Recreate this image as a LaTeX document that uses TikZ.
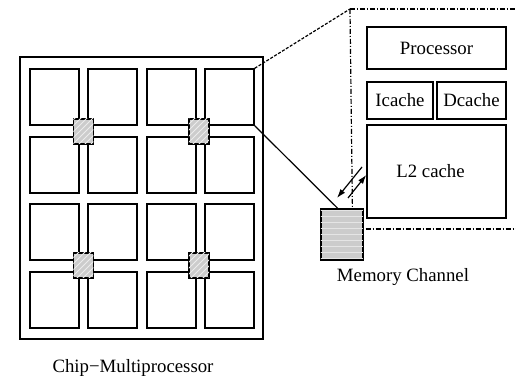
\documentclass[tikz,border=0pt]{standalone}
\usepackage{fontspec}
\setmainfont{Liberation Serif}
\usetikzlibrary{arrows.meta,calc,patterns}

\tikzset{
  tileBox/.style={shape=rectangle,draw=black,line width=0.7pt,inner sep=0pt,minimum width=24.5pt,minimum height=28pt},
  routerBox/.style={shape=rectangle,draw=black,line width=0.7pt,inner sep=0pt,minimum width=10pt,minimum height=12.5pt,fill=gray!40,postaction={pattern=north east lines,pattern color=white!85!gray}},
  unitBox/.style={shape=rectangle,draw=black,line width=0.7pt,inner sep=0pt,font=\fontsize{9.4}{11}\selectfont},
  dashDotLine/.style={line width=0.6pt,dash pattern=on 2.5pt off 1pt on 0.5pt off 1pt},
  plainLabel/.style={font=\fontsize{9.4}{11}\selectfont}
}

\begin{document}
\begin{tikzpicture}[x=0.5pt,y=-0.5pt]
  \useasboundingbox (0,0) rectangle (516,379);

  \node[shape=rectangle,draw=black,line width=0.7pt,inner sep=0pt,minimum width=121.5pt,minimum height=141pt] (chipMultiprocessor) at (141.5,198) {};

  \node[tileBox] (tile11) at (54.5,97) {};
  \node[tileBox] (tile12) at (112.5,97) {};
  \node[tileBox] (tile13) at (171.5,97) {};
  \node[tileBox] (tile14) at (229.5,97) {};
  \node[tileBox] (tile21) at (54.5,165) {};
  \node[tileBox] (tile22) at (112.5,165) {};
  \node[tileBox] (tile23) at (171.5,165) {};
  \node[tileBox] (tile24) at (229.5,165) {};
  \node[tileBox] (tile31) at (54.5,232) {};
  \node[tileBox] (tile32) at (112.5,232) {};
  \node[tileBox] (tile33) at (171.5,232) {};
  \node[tileBox] (tile34) at (229.5,232) {};
  \node[tileBox] (tile41) at (54.5,300) {};
  \node[tileBox] (tile42) at (112.5,300) {};
  \node[tileBox] (tile43) at (171.5,300) {};
  \node[tileBox] (tile44) at (229.5,300) {};

  \node[routerBox] (routerA) at (83.5,131.5) {};
  \node[routerBox] (routerB) at (199,131.5) {};
  \node[routerBox] (routerC) at (83.5,265.5) {};
  \node[routerBox] (routerD) at (199,265.5) {};

  \node[plainLabel] (chipLabel) at (133,368) {Chip−Multiprocessor};

  \node[shape=rectangle,draw=black,line width=0.7pt,inner sep=0pt,minimum width=21pt,minimum height=25.5pt,fill=gray!40,postaction={pattern=horizontal lines,pattern color=white!80!gray}] (memoryChannel) at (342,234.5) {};
  \node[plainLabel] (memoryLabel) at (403,277) {Memory Channel};

  \node[unitBox,minimum width=69.5pt,minimum height=21pt] (processor) at (436.5,48) {Processor};
  \node[unitBox,minimum width=33pt,minimum height=18.5pt] (icache) at (400,100.5) {Icache};
  \node[unitBox,minimum width=34.5pt,minimum height=18.5pt] (dcache) at (471.5,100.5) {Dcache};
  \node[unitBox,minimum width=69.5pt,minimum height=46.5pt] (l2Cache) at (436.5,171.5) {\hspace*{-6pt}L2 cache};

  \coordinate (zoomTop) at (350,9);
  \coordinate (boxTopRight) at (516,9);
  \coordinate (boxBottomRight) at (516,229);
  \coordinate (arrowOutStart) at (362,167);
  \coordinate (arrowOutEnd) at (337,198);
  \coordinate (arrowInStart) at (348,198);

  % zoom lines
  \draw[line width=0.6pt,dash pattern=on 1.5pt off 0.8pt] (tile14.north east) -- (zoomTop);
  \draw[line width=0.6pt] (tile14.south east) -- ($(memoryChannel.north west)!0.4!(memoryChannel.north east)$);

  % node boundary
  \draw[dashDotLine] (zoomTop) -- (boxTopRight);
  \draw[dashDotLine] (zoomTop) -- ($(memoryChannel.north west)!0.74!(memoryChannel.north east)$);
  \draw[dashDotLine] ($(memoryChannel.east |- boxBottomRight)+(2,0)$) -- (boxBottomRight);

  \draw[line width=0.6pt,-{Latex[length=4.5pt,width=3pt]}] (arrowOutStart) -- (arrowOutEnd);
  \draw[line width=0.6pt,-{Latex[length=4.5pt,width=3pt]}] (arrowInStart) -- ($(l2Cache.west)+(0,3.5)$);
\end{tikzpicture}
\end{document}
